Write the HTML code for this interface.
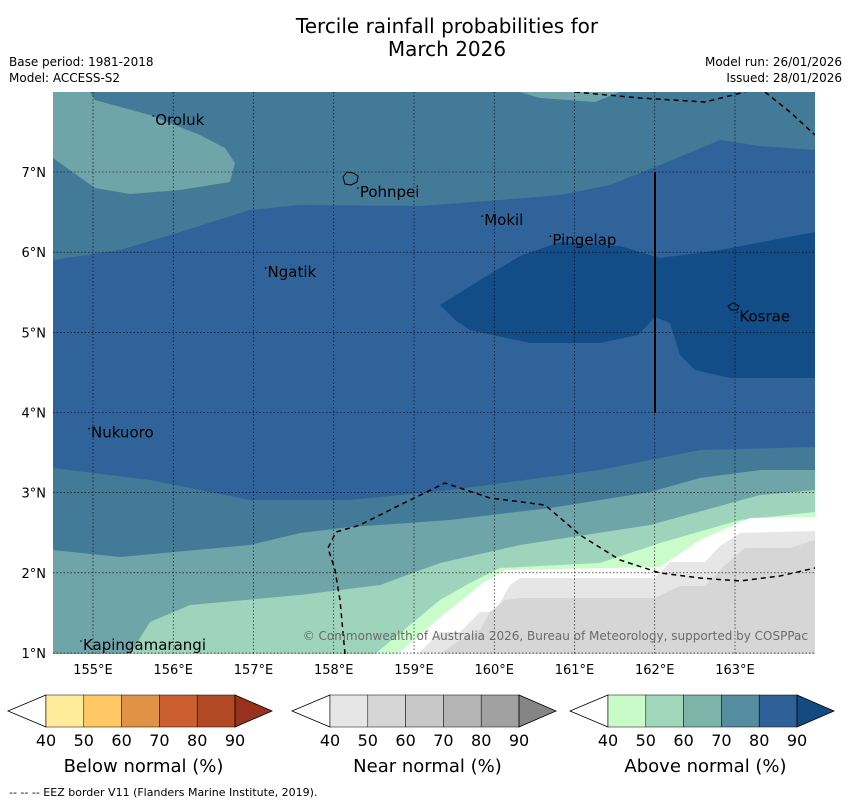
<!DOCTYPE html>
<html><head><meta charset="utf-8"><style>
body{margin:0;background:#fff;width:850px;height:804px;overflow:hidden;font-family:"Liberation Sans","DejaVu Sans",sans-serif;}
svg{position:absolute;left:0;top:0}
</style></head><body>
<svg width="850" height="804" font-family="DejaVu Sans, Liberation Sans, sans-serif">
<text x="447" y="33" font-size="20" text-anchor="middle">Tercile rainfall probabilities for</text>
<text x="447" y="56" font-size="20" text-anchor="middle">March 2026</text>
<text x="9" y="66" font-size="12">Base period: 1981-2018</text>
<text x="9" y="82" font-size="12">Model: ACCESS-S2</text>
<text x="842" y="66" font-size="12" text-anchor="end">Model run: 26/01/2026</text>
<text x="842" y="82" font-size="12" text-anchor="end">Issued: 28/01/2026</text>
<defs><clipPath id="mc"><rect x="53" y="92" width="762" height="562"/></clipPath></defs>
<g clip-path="url(#mc)">
<rect x="53" y="92" width="762" height="562" fill="#427a98"/>
<polygon fill="#6fa4a9" points="53,92 90,92 95,100 150,115 200,135 225,148 235,163 230,182 180,190 130,194 95,188 53,158"/>
<polygon fill="#6fa4a9" points="520,92 620,92 595,102 540,98"/>
<polygon fill="#30639a" points="53,260 120,250 180,232 250,210 300,205 420,206 500,200 560,195 610,185 660,165 720,140 760,146 815,150 815,447 700,450 600,470 450,490 350,500 250,500 150,480 53,468"/>
<polygon fill="#134d87" points="440,305 480,280 520,256 560,242 620,246 660,258 720,250 815,232 815,378 730,378 695,370 680,355 670,323 655,317 638,335 600,343 530,343 470,330 455,320"/>
<polygon fill="#6fa4a9" points="53,550 120,557 250,545 300,533 350,527 450,520 550,508 650,492 700,478 760,470 815,470 815,654 53,654"/>
<polygon fill="#9ed4bb" points="130,654 150,622 190,605 300,595 380,585 440,563 520,545 650,525 760,495 815,490 815,654"/>
<polygon fill="#c9fcca" points="375,654 440,600 470,583 500,568 600,563 660,543 740,520 815,512 815,654"/>
<polygon fill="#ffffff" points="398,654 445,613 465,598 480,585 505,570 660,567 700,540 750,518 815,517 815,654"/>
<polygon fill="#e6e6e6" points="418,654 440,632 460,632 480,612 495,612 510,585 520,578 655,578 670,562 705,562 720,546 740,533 815,531 815,654"/>
<polygon fill="#d6d6d6" points="440,654 460,640 480,630 490,612 505,600 520,598 655,598 680,586 705,586 725,565 745,548 790,548 815,540 815,654"/>
<g stroke="#000" stroke-width="0.6" stroke-dasharray="1.5,2" id="grid"></g>
<g fill="none" stroke="#000" stroke-width="1.5" stroke-dasharray="5,4">
<polyline points="575,92 640,98 705,102 745,92"/>
<polyline points="765,92 790,112 815,135"/>
<polyline points="345,654 340,600 335,570 328,548 336,532 360,525 400,505 445,483 490,498 545,505 580,535 620,560 660,573 700,578 740,581 780,576 815,568"/>
</g>
<line x1="655" y1="172" x2="655" y2="413" stroke="#000" stroke-width="2"/>
<path d="M343,177 l4,-5 l6,1 l5,3 l-1,6 l-6,3 l-6,-1 z" fill="none" stroke="#000" stroke-width="1"/>
<path d="M728,306 l5,-3 l6,3 l-2,4 l-6,0 z" fill="none" stroke="#000" stroke-width="1"/>
<g font-size="15" fill="#000" id="places"></g>
</g>
<g id="axes" font-size="13"></g>
<text x="808" y="640" font-size="12" fill="#6a6a6a" text-anchor="end">© Commonwealth of Australia 2026, Bureau of Meteorology, supported by COSPPac</text>
<g id="cbars"></g>
<text x="9" y="796" font-size="11">-- -- -- EEZ border V11 (Flanders Marine Institute, 2019).</text>
</svg>
<script>
const lonTicks=[155,156,157,158,159,160,161,162,163];
const latTicks=[1,2,3,4,5,6,7];
const places=[["Oroluk",155.75,7.65],["Pohnpei",158.3,6.75],["Mokil",159.85,6.4],["Pingelap",160.7,6.15],["Ngatik",157.15,5.75],["Kosrae",163.03,5.2],["Nukuoro",154.95,3.75],["Kapingamarangi",154.85,1.1]];
const cbLabels=[40,50,60,70,80,90];
const cbBelow=["#ffeb9a","#fec964","#e09344","#cb5f2f","#b24a25","#97321c"];
const cbNear=["#e6e6e6","#d5d5d5","#c8c8c8","#b4b4b4","#a1a1a1","#858585"];
const cbAbove=["#c9fbc9","#a0d7bb","#7eb3aa","#558c9f","#2f5f97","#134b80"];
const NS="http://www.w3.org/2000/svg";
function X(lon){return 93+(lon-155)*80.25;}
function Y(lat){return 172+(7-lat)*80.17;}
function mk(t,a,p){const e=document.createElementNS(NS,t);for(const k in a)e.setAttribute(k,a[k]);p.appendChild(e);return e;}
const grid=document.getElementById('grid'),axes=document.getElementById('axes');
lonTicks.forEach(l=>{const g=mk('line',{x1:X(l),x2:X(l),y1:92,y2:654},grid);


const t=mk('text',{x:X(l),y:674,'text-anchor':'middle'},axes);t.textContent=l+'°E';

});
latTicks.forEach(l=>{const g=mk('line',{x1:53,x2:815,y1:Y(l),y2:Y(l)},grid);


const t=mk('text',{x:46,y:Y(l)+5,'text-anchor':'end'},axes);t.textContent=l+'°N';

});
const pl=document.getElementById('places');
places.forEach(p=>{const t=mk('text',{x:X(p[1])+2,y:Y(p[2])+5},pl);t.textContent=p[0];


const d=mk('circle',{cx:X(p[1]),cy:Y(p[2])-4,r:0.8},pl);

});
const cb=document.getElementById('cbars');
function bar(x0,cols,title){
 const g=mk('g',{},cb);
 
 
 const w=37.8,y0=695,h=32;
 const tri=mk('polygon',{points:`${x0+46-38},${y0+h/2} ${x0+46},${y0} ${x0+46},${y0+h}`,fill:'#fff',stroke:'#000','stroke-width':0.8},g);
 
 
 cols.forEach((c,i)=>{
  if(i<5){const r=mk('rect',{x:x0+46+i*w,y:y0,width:w,height:h,fill:c,stroke:'#000','stroke-width':0.5},g);
   
   }
  else{const a=x0+46+5*w;const r=mk('polygon',{points:`${a},${y0} ${a+37},${y0+h/2} ${a},${y0+h}`,fill:c,stroke:'#000','stroke-width':0.8},g);
   
   }
 });
 cbLabels.forEach((v,i)=>{const t=mk('text',{x:x0+46+i*w,y:746,'font-size':16,'text-anchor':'middle'},g);t.textContent=v;
  
  });
 const t=mk('text',{x:x0+46+2.5*w+3,y:772,'font-size':18,'text-anchor':'middle'},g);t.textContent=title;
 
 
}
bar(0,cbBelow,'Below normal (%)');
bar(284,cbNear,'Near normal (%)');
bar(562,cbAbove,'Above normal (%)');
</script>
</body></html>
